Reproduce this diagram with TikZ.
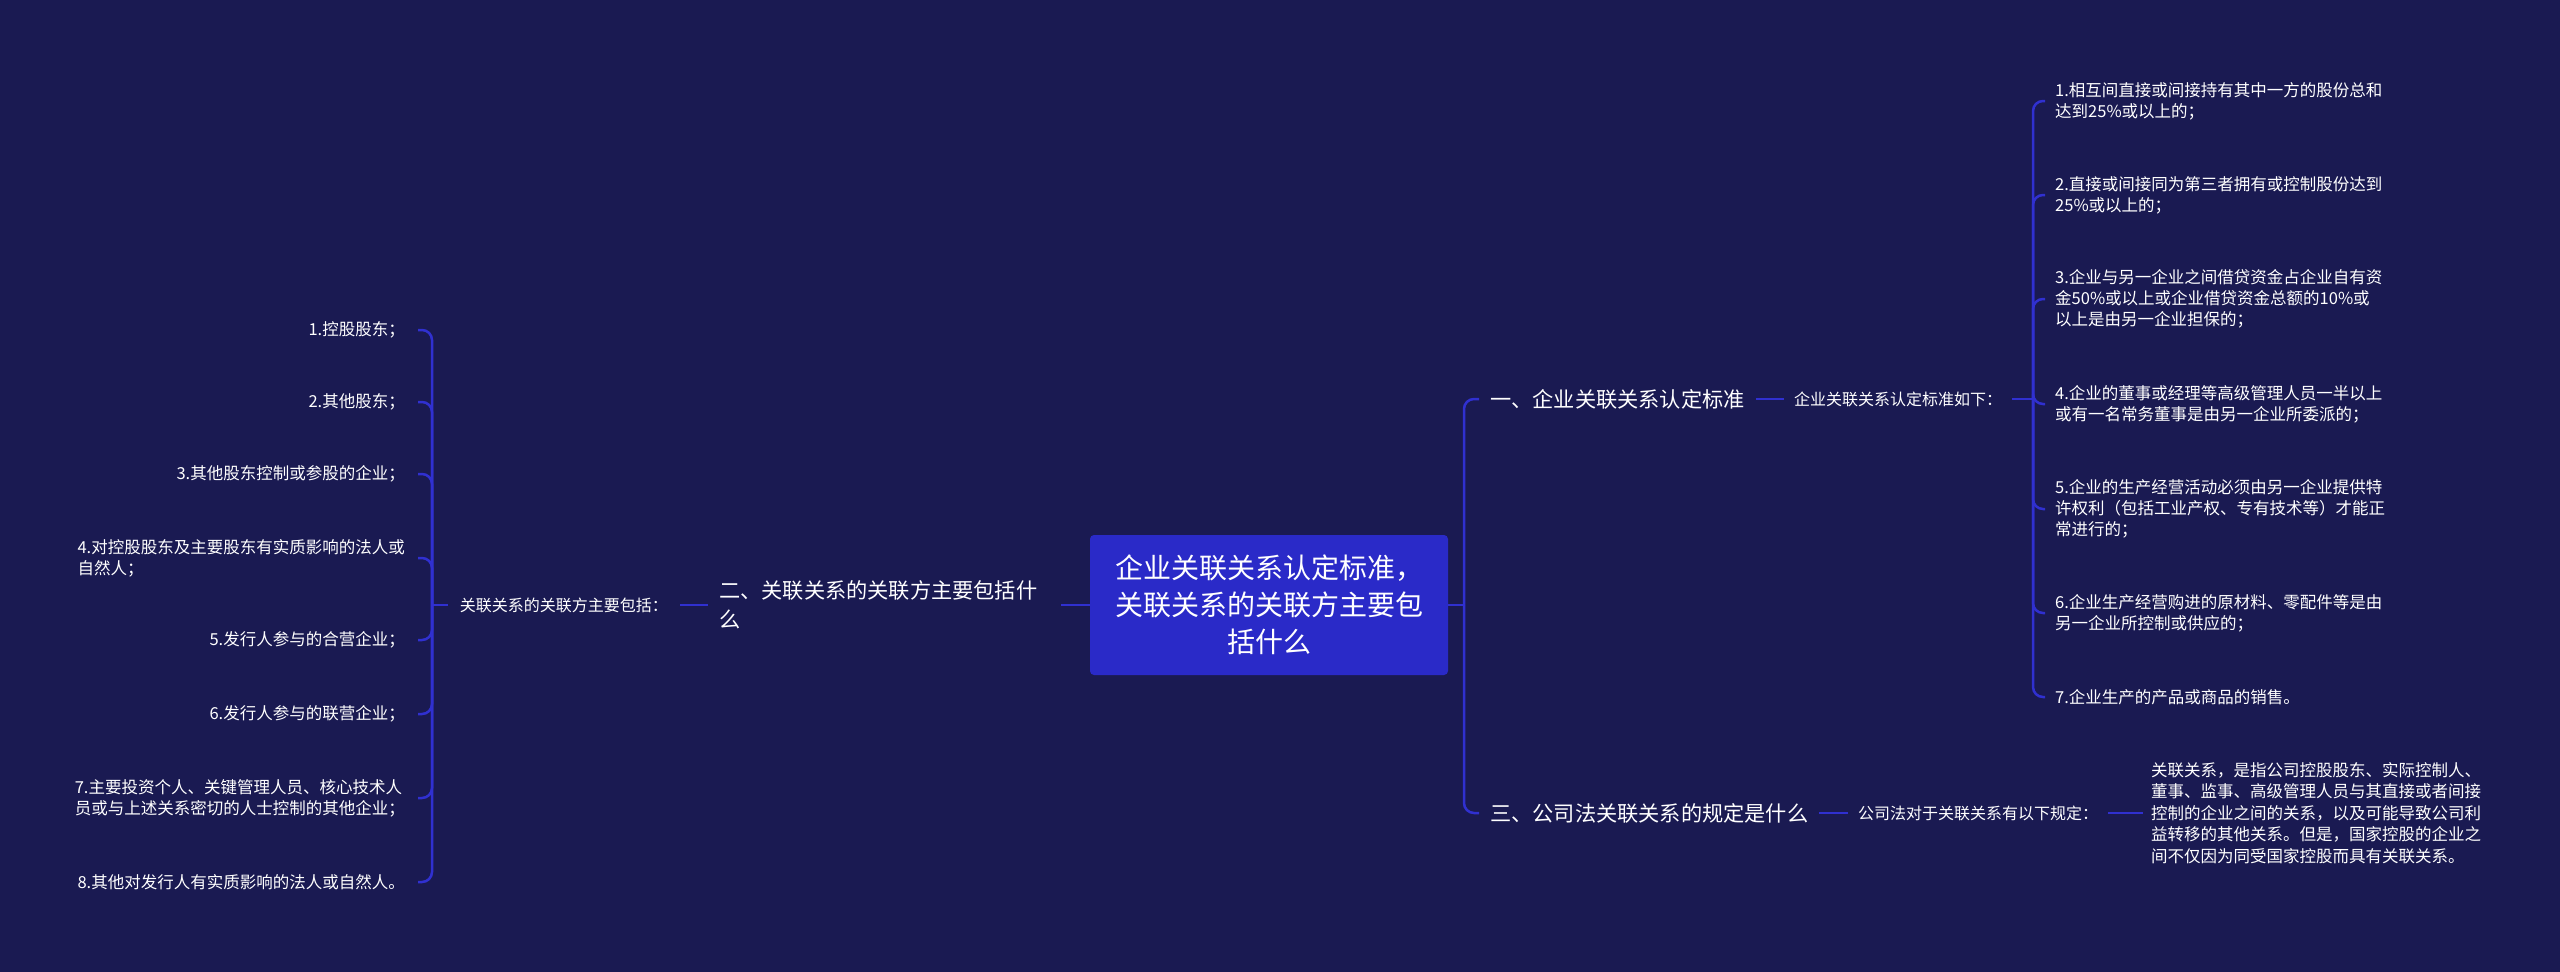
\documentclass[tikz,border=0pt]{standalone}
\usepackage{fontspec}
\setmainfont{Noto Sans CJK SC}
\definecolor{bg}{RGB}{26,26,82}
\definecolor{boxc}{RGB}{42,42,200}
\definecolor{linec}{RGB}{48,48,208}
\tikzset{
  conn/.style={draw=linec, line width=2.5pt, rounded corners=10pt},
  txt/.style={text=white, inner ysep=0pt},
  leafr/.style={txt, anchor=west, inner xsep=10pt, align=left, font=\fontsize{16.5}{21}\selectfont},
  leafl/.style={txt, anchor=east, inner xsep=13pt, align=left, font=\fontsize{16.5}{21}\selectfont},
  mid/.style={txt, inner xsep=10pt, align=left, font=\fontsize{16}{21}\selectfont},
  sec/.style={txt, inner xsep=11pt, align=left, font=\fontsize{21.2}{29}\selectfont},
  rootbox/.style={fill=boxc, rounded corners=4pt, text=white, inner sep=0pt, minimum width=358pt, minimum height=140pt, align=center, font=\fontsize{28}{37}\selectfont}
}
\begin{document}
\begin{tikzpicture}[x=1pt,y=-1pt]
\fill[bg] (0,0) rectangle (2560,972);
\useasboundingbox (0,0) rectangle (2560,972);

% root
\node[rootbox] (root) at (1269,605) {企业关联关系认定标准，\\关联关系的关联方主要包\\括什么};

% right side
\node[sec, anchor=west] (s1) at (1479,399) {一、企业关联关系认定标准};
\node[mid, anchor=west] (s1c) at (1784,399) {企业关联关系认定标准如下：};
\node[sec, anchor=west] (s3) at (1479,813) {三、公司法关联关系的规定是什么};
\node[mid, anchor=west] (s3c) at (1848,813) {公司法对于关联关系有以下规定：};
\node[txt, anchor=west, inner xsep=8pt, align=left, font=\fontsize{16.5}{21.5}\selectfont] (p) at (2143,813)
  {关联关系，是指公司控股股东、实际控制人、\\董事、监事、高级管理人员与其直接或者间接\\控制的企业之间的关系，以及可能导致公司利\\益转移的其他关系。但是，国家控股的企业之\\间不仅因为同受国家控股而具有关联关系。};

\node[leafr] (r1) at (2045,101) {1.相互间直接或间接持有其中一方的股份总和\\达到25\%或以上的；};
\node[leafr] (r2) at (2045,195) {2.直接或间接同为第三者拥有或控制股份达到\\25\%或以上的；};
\node[leafr] (r3) at (2045,299) {3.企业与另一企业之间借贷资金占企业自有资\\金50\%或以上或企业借贷资金总额的10\%或\\以上是由另一企业担保的；};
\node[leafr] (r4) at (2045,404) {4.企业的董事或经理等高级管理人员一半以上\\或有一名常务董事是由另一企业所委派的；};
\node[leafr] (r5) at (2045,509) {5.企业的生产经营活动必须由另一企业提供特\\许权利（包括工业产权、专有技术等）才能正\\常进行的；};
\node[leafr] (r6) at (2045,613) {6.企业生产经营购进的原材料、零配件等是由\\另一企业所控制或供应的；};
\node[leafr] (r7) at (2045,697) {7.企业生产的产品或商品的销售。};

% left side
\node[sec, anchor=west, text width=331pt] (s2) at (708,605) {二、关联关系的关联方主要包括什\\么};
\node[mid, anchor=east, inner xsep=12pt] (s2c) at (680,605) {关联关系的关联方主要包括：};

\node[leafl] (l1) at (418,330) {1.控股股东；};
\node[leafl] (l2) at (418,402) {2.其他股东；};
\node[leafl] (l3) at (418,474) {3.其他股东控制或参股的企业；};
\node[leafl] (l4) at (418,558) {4.对控股股东及主要股东有实质影响的法人或\\自然人；};
\node[leafl] (l5) at (418,640) {5.发行人参与的合营企业；};
\node[leafl] (l6) at (418,714) {6.发行人参与的联营企业；};
\node[leafl] (l7) at (418,798) {7.主要投资个人、关键管理人员、核心技术人\\员或与上述关系密切的人士控制的其他企业；};
\node[leafl] (l8) at (418,882) {8.其他对发行人有实质影响的法人或自然人。};

% junction coordinates
\coordinate (rj) at (1464,605);
\coordinate (rj2) at (2033,399);
\coordinate (lj) at (432,605);

% connectors right
\draw[conn] (root.east) -- (rj);
\draw[conn] (rj) |- (s1.west);
\draw[conn] (rj) |- (s3.west);
\draw[conn] (s1.east) -- (s1c.west);
\draw[conn] (s3.east) -- (s3c.west);
\draw[conn] (s3c.east) -- (p.west);
\draw[conn] (s1c.east) -- (rj2);
\foreach \n in {r1,r2,r3,r4,r5,r6,r7} \draw[conn] (rj2) |- (\n.west);

% connectors left
\draw[conn] (s2.east) -- (root.west);
\draw[conn] (s2c.east) -- (s2.west);
\draw[conn] (s2c.west) -- (lj);
\foreach \n in {l1,l2,l3,l4,l5,l6,l7,l8} \draw[conn] (lj) |- (\n.east);
\end{tikzpicture}
\end{document}
